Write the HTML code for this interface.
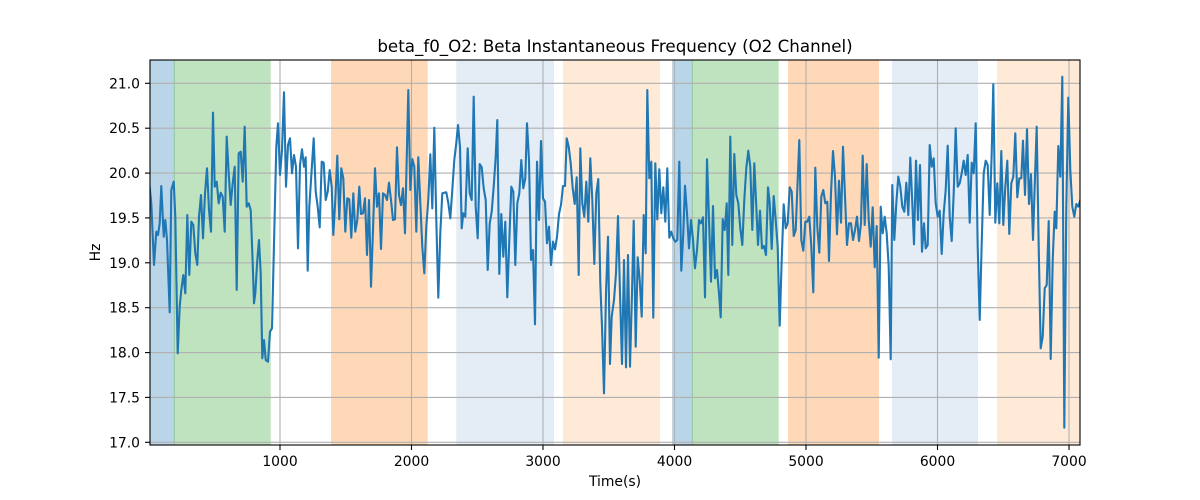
<!DOCTYPE html>
<html><head><meta charset="utf-8"><style>
html,body{margin:0;padding:0;background:#fff;}
svg{display:block;}
text{font-family:"DejaVu Sans","Liberation Sans",sans-serif;fill:#000;}
</style></head><body>
<svg width="1200" height="500" viewBox="0 0 1200 500" xmlns="http://www.w3.org/2000/svg">
<defs><clipPath id="ax"><rect x="150" y="60" width="930" height="385"/></clipPath></defs>
<rect x="0" y="0" width="1200" height="500" fill="#fff"/>
<g clip-path="url(#ax)">
<rect x="150" y="60" width="24.3" height="385" fill="#bbd5e8"/>
<rect x="174.3" y="60" width="96.4" height="385" fill="#bfe2bf"/>
<line x1="174.3" y1="60" x2="174.3" y2="445" stroke="#8fc79a" stroke-width="1"/>
<rect x="331" y="60" width="96.7" height="385" fill="#ffd9b7"/>
<rect x="456.3" y="60" width="97.7" height="385" fill="#e4ecf6"/>
<rect x="563" y="60" width="97" height="385" fill="#ffead8"/>
<rect x="672" y="60" width="20.3" height="385" fill="#bbd5e8"/>
<rect x="692.3" y="60" width="86.4" height="385" fill="#bfe2bf"/>
<line x1="692.3" y1="60" x2="692.3" y2="445" stroke="#8fc79a" stroke-width="1"/>
<rect x="788" y="60" width="91" height="385" fill="#ffd9b7"/>
<rect x="892" y="60" width="86" height="385" fill="#e4ecf6"/>
<rect x="997" y="60" width="83" height="385" fill="#ffead8"/>
<g stroke="#b0b0b0" stroke-width="1.1">
<line x1="280" y1="60" x2="280" y2="445"/>
<line x1="411.5" y1="60" x2="411.5" y2="445"/>
<line x1="543" y1="60" x2="543" y2="445"/>
<line x1="674.5" y1="60" x2="674.5" y2="445"/>
<line x1="806" y1="60" x2="806" y2="445"/>
<line x1="937.5" y1="60" x2="937.5" y2="445"/>
<line x1="1069" y1="60" x2="1069" y2="445"/>
<line x1="150" y1="83.3" x2="1080" y2="83.3"/>
<line x1="150" y1="128.2" x2="1080" y2="128.2"/>
<line x1="150" y1="173.1" x2="1080" y2="173.1"/>
<line x1="150" y1="217.9" x2="1080" y2="217.9"/>
<line x1="150" y1="262.8" x2="1080" y2="262.8"/>
<line x1="150" y1="307.7" x2="1080" y2="307.7"/>
<line x1="150" y1="352.6" x2="1080" y2="352.6"/>
<line x1="150" y1="397.4" x2="1080" y2="397.4"/>
<line x1="150" y1="442.3" x2="1080" y2="442.3"/>
</g>
<polyline fill="none" stroke="#1f77b4" stroke-width="2.1" stroke-linejoin="round" stroke-linecap="square" points="
149,180 151.3,203.3 154,265 156.3,231.7 158,235 159.7,223.3 161.3,186 163.7,236.7 165.3,220 167,240 169.7,312.3 171.3,190 173.7,181.7 175.3,216.7 177.7,353.3 179.7,306.7 181.3,290 183.3,275 185.3,293.3 187.3,215 189.3,275 191.3,221.7 193.3,225 195.3,253.3 197.3,265 199,216.7 201,195 203,238.3 205,193.3 207,168.3 209,210 211,231.7 213,112.7 214.7,186.7 216.7,181.7 218.7,203.3 220.7,192.7 222.7,196.7 224.7,231.7 226.7,136.7 228.7,173.3 230.7,205 232.7,183.3 234.7,166.7 236.7,290 238.7,153.3 240.7,151.7 242.7,181.7 244.7,126.7 246.7,206.7 248.7,203.3 250.7,210 252.7,263.3 254,303.3 255.3,293.3 257.3,260 259,240 260.7,273.3 262.3,358.3 264,340 265.7,360 268,361.7 270,331.7 272,328.3 276.3,146.7 278,123.3 280,175 282,150 284,92.3 286,186.7 288,145 290,138.3 292,173.3 294,155 296,166.7 298,248.3 300,165
302,149.3 304,166.7 305.7,157.3 307.7,270.7 309.3,206.7 313.7,138.3 315.7,191.7 317.7,206.7 319.7,227.3 321.7,161.7 323.7,162.7 325.7,200 327.7,191.7 329.7,170 331.7,186.7 333.3,235 335.3,200 337.3,155.7 339.3,219.3 341.3,168.3 343.3,178.3 345.3,231.7 347.3,198.3 349.3,199.3 351.3,237.7 353.3,193.3 355.3,231.7 357.3,220 359.3,186.7 361,214 363,213.3 365,198.3 367,255 369,200 371,286.7 373,230 375,168.3 377,206.7 379,193.3 381,249 383,193.3 385,195 387,200 389,182.7 391,200 393,220 395,219.3 397,147.3 399,195 401,205 403,188.3 405,233.3 406.7,160 408.3,90 410.3,190 412.3,159 414.3,166.7 416.3,231.7 418.3,157.3 420.3,203 422.3,246.7 424.3,273.3 426.3,226.7 428.3,200 430.3,154.3 432.3,208.3 434.3,127.7 436.3,220 438.3,297.7 440.3,233 442.3,193.3 444.3,192.7 446.3,192.3 448.3,203 450.3,218.3 452.3,190 454.3,160 456.3,143
458,125 460,146.7 461.7,228.3 463.3,213.3 465.3,216.7 467.7,148.3 469.7,193.3 471.7,200 473.7,96.7 475.7,206.7 477.7,238.3 479.7,164 481.7,167.3 483.7,188.3 485.7,200 487.7,270 489.7,223.3 491.7,211.7 493.7,186.7 495.7,156.7 497.3,120 499.3,274 501.3,214 503.3,256.7 505.3,221.7 507.3,297.3 509.3,240 511.3,186.7 513.3,191.7 515.3,265 517.3,203.3 519.3,193.3 521.3,160 523.3,188.3 525.3,178.3 527,123.3 529,160 531,260 533,250 535,324.3 537,161.7 539,220 541,141 543,198.3 545,201.7 547,243.3 549,226.7 551,265 553,241.7 555,249.3 557,236.7 559,214 561,205 563,186 565,186 566.7,138.3 568.7,146.7 570.7,163.3 572.7,188.3 574.7,204 576.7,177.3 578.7,275 580.3,148.3 582.3,203.3 584.3,216.7 586.3,181.7 588.3,221.7 590.3,158.3 592.3,200 594.3,264 596.3,193.3 598.3,179 600.3,283.3 602,326.7 604,393.3 606,293.3 608,236.7
610,364 611.7,316.7 614,300 616,273.3 618,216 620,293.3 622,364 624,260 626,367.3 628,255 630,366.7 632,293.3 633.7,220.7 635.7,346.7 637.7,257.3 639.7,280 641.7,316.7 643.7,215 645.7,253.3 647.3,90 649.3,178.3 651.3,161.7 653.3,317.7 655.3,163.3 657.3,219.3 659.3,169.3 661.3,213.3 663.3,187.3 665.3,221.7 667.3,168.3 669.3,237.7 671.3,231.7 673.3,238.3 675.3,241.7 677.3,240 679.3,161.7 681.3,270.7 683.3,233.3 685,185.7 687,213.3 689,248.3 691,220 693,240 695,268.3 697,250 699,220 701,223.3 703,217.3 705,297.3 707,159.3 709,220 711,281.7 713,206 715,278.3 717,270 719,293.3 720.7,317.3 722.7,219.3 724.7,230 726.7,203.3 728.3,275 730.3,136.7 732.3,245 734.3,154 736.3,195 738.3,203.3 740.3,228.3 742.3,245 744.3,200 746.3,168.3 748.3,150.7 750.3,166.7 752.3,230 754.3,163.3 756.3,206.7 758,245 760,210.7 762,248.3 764,246 766,255 768,187.3
769.7,203 771.7,249 773.7,196 775.7,220 777.7,246.7 779.7,325.7 781.7,260 783.7,204.3 785.7,228.3 787.7,223.3 789.7,187.3 791.7,191.7 793.7,236 795.7,230 797.7,180 799.3,140 801.3,240 803.3,250.7 805.3,221.7 807.3,221.7 809.3,216.7 811.3,246.7 813.3,292.3 815.3,167.7 817.3,226.7 819.3,252.7 821.3,196.7 823.3,190 825.3,203.3 827.3,201.7 829,261 831,193.3 833,151 835,176.7 837,234.3 839,180.7 841,222.7 843,146.7 845,196.7 847,245 849,223.3 851,223.3 853,240 855,230 857,216.7 859,241 861,223.3 862.7,155.7 864.7,225 866.7,164 868.7,220 870.7,246.7 872.7,207.3 874.7,267.3 876.7,226 878.7,357.7 880.7,206.7 882.7,233.3 884.7,216.7 886.7,233.3 888.7,266.7 890.7,359.3 892.3,185 894.3,240 896.3,203.3 898.3,176.7 900.3,186.7 902.3,206.7 904.3,211.7 906.3,182.7 908.3,215 910.3,157.7 912.3,203.3 914,244.3 916,160.7 918,220 920,165
922,251.7 924,223.3 925.7,248.3 927.7,245 929.7,145 931.7,166.7 933.7,158.3 935.7,203.3 937.7,216.7 939.7,210.7 941.7,254 943.7,213.3 945.7,190 947.7,145.7 949.7,216.7 951.7,241 953.7,193.3 955.7,128.3 957.7,186.7 959.7,183.3 961.7,173.3 963.7,160.7 965.7,175 967.7,155 969.7,222.7 971.7,162.7 973.7,173.3 975.7,123.3 977.7,246.7 979.7,320 981.7,243.3 983.7,173.3 985.7,160.7 987.7,165 989.7,215 991.7,153.3 993.3,84.3 995.3,222.7 997.3,183.3 999.3,223.3 1001.3,151 1003.3,225 1005.3,186.7 1007.3,160.7 1009.3,234 1011.3,183.3 1013.3,176.7 1015.3,133.3 1017.3,197.3 1019.3,178.3 1021.3,178.3 1023,140.7 1025,195 1027,129.3 1029,204 1031,174.3 1033,240 1035,176.7 1036.7,126.7 1038.7,246.7 1040.7,348.3 1042.7,336.7 1044.7,288.3 1046.7,285 1048.7,221 1050.7,359 1052.7,260 1054.7,211.7 1056.3,228.3 1058.3,146 1060.3,176.7 1062.3,76.7 1064.3,427.7 1066.3,206.7 1068.3,97.7 1070.3,170 1072.3,206.7 1074.3,216.7 1076.3,204 1078.3,206.7 1080.3,200 1082,198"/>
</g>
<rect x="150" y="60" width="930" height="385" fill="none" stroke="#000" stroke-width="1.1"/>
<g stroke="#000" stroke-width="1.1">
<line x1="280" y1="445" x2="280" y2="450"/>
<line x1="411.5" y1="445" x2="411.5" y2="450"/>
<line x1="543" y1="445" x2="543" y2="450"/>
<line x1="674.5" y1="445" x2="674.5" y2="450"/>
<line x1="806" y1="445" x2="806" y2="450"/>
<line x1="937.5" y1="445" x2="937.5" y2="450"/>
<line x1="1069" y1="445" x2="1069" y2="450"/>
<line x1="145" y1="83.3" x2="150" y2="83.3"/>
<line x1="145" y1="128.2" x2="150" y2="128.2"/>
<line x1="145" y1="173.1" x2="150" y2="173.1"/>
<line x1="145" y1="217.9" x2="150" y2="217.9"/>
<line x1="145" y1="262.8" x2="150" y2="262.8"/>
<line x1="145" y1="307.7" x2="150" y2="307.7"/>
<line x1="145" y1="352.6" x2="150" y2="352.6"/>
<line x1="145" y1="397.4" x2="150" y2="397.4"/>
<line x1="145" y1="442.3" x2="150" y2="442.3"/>
</g>
<g font-size="13.9" text-anchor="middle">
<text x="280" y="466">1000</text>
<text x="411.5" y="466">2000</text>
<text x="543" y="466">3000</text>
<text x="674.5" y="466">4000</text>
<text x="806" y="466">5000</text>
<text x="937.5" y="466">6000</text>
<text x="1069" y="466">7000</text>
</g>
<g font-size="13.9" text-anchor="end">
<text x="140" y="88.3">21.0</text>
<text x="140" y="133.2">20.5</text>
<text x="140" y="178.1">20.0</text>
<text x="140" y="222.9">19.5</text>
<text x="140" y="267.8">19.0</text>
<text x="140" y="312.7">18.5</text>
<text x="140" y="357.6">18.0</text>
<text x="140" y="402.4">17.5</text>
<text x="140" y="447.3">17.0</text>
</g>
<text x="615" y="486" font-size="13.9" text-anchor="middle">Time(s)</text>
<text x="0" y="0" font-size="13.9" text-anchor="middle" transform="translate(100,252.5) rotate(-90)">Hz</text>
<text x="615" y="52" font-size="16.7" text-anchor="middle">beta_f0_O2: Beta Instantaneous Frequency (O2 Channel)</text>
</svg>
</body></html>
